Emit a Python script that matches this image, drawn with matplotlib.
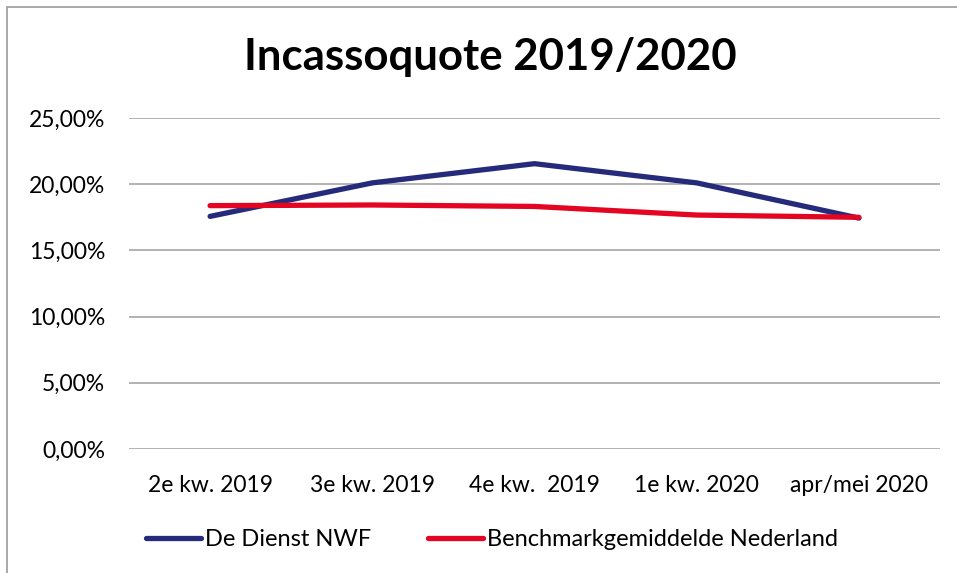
import matplotlib
matplotlib.use("Agg")
import matplotlib.pyplot as plt
from matplotlib.ticker import FuncFormatter
from matplotlib.patches import Rectangle

categories = ["2e kw. 2019", "3e kw. 2019", "4e kw.  2019", "1e kw. 2020", "apr/mei 2020"]
nwf = [17.57, 20.1, 21.55, 20.1, 17.44]
benchmark = [18.38, 18.43, 18.32, 17.67, 17.5]
series_names = ["De Dienst NWF", "Benchmarkgemiddelde Nederland"]
yticks = [0, 5, 10, 15, 20, 25]
title = "Incassoquote 2019/2020"

plt.rcParams['font.family'] = ['Lato', 'DejaVu Sans']

W, H = 957, 573
fig = plt.figure(figsize=(W/100, H/100), dpi=100)
ax = fig.add_axes([129/W, 1-449/H, (940-129)/W, (449-118)/H])

x = list(range(len(categories)))
ax.plot(x, nwf, color="#262A7A", lw=3.8, solid_capstyle="round", solid_joinstyle="round", label=series_names[0], zorder=3)
ax.plot(x, benchmark, color="#E30522", lw=3.8, solid_capstyle="round", solid_joinstyle="round", label=series_names[1], zorder=3)

ax.set_xlim(-0.5, len(categories)-0.5)
ax.set_ylim(0, 25)
ax.set_yticks(yticks)
ax.yaxis.set_major_formatter(FuncFormatter(lambda v, p: f"{v:.2f}".replace(".", ",") + "%"))
ax.set_xticks(x)
ax.set_xticklabels(categories)
ax.tick_params(axis='both', length=0, labelsize=16.5, colors="#000000")
ax.tick_params(axis='y', pad=17)
ax.tick_params(axis='x', pad=19)
ax.grid(axis='y', color="#A6A6A6", lw=1.2)
ax.set_axisbelow(True)
for s in ax.spines.values():
    s.set_visible(False)

fig.text(490/W, 1-57/H, title, ha="center", va="center", fontsize=31.5, fontweight="bold")

leg = fig.legend(loc="center", bbox_to_anchor=(492/W, 1-540/H), ncol=2, frameon=False,
                 fontsize=17, handlelength=2.35, handletextpad=0.15, columnspacing=2.4)
for line in leg.get_lines():
    line.set_linewidth(3.8)
    line.set_solid_capstyle("round")

fig.patches.append(Rectangle((7/W, -0.1), 1.2, 1-7/H+0.1, transform=fig.transFigure,
                             fill=False, edgecolor="#9A9A9A", lw=1.2))

fig.savefig("out.png", dpi=100)
